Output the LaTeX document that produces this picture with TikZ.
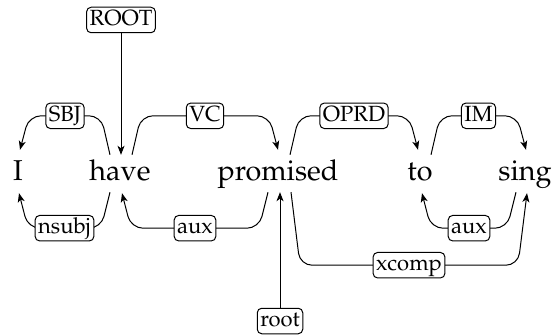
\documentclass[tikz,border=0pt]{standalone}
\usepackage[T1]{fontenc}
\usepackage{mathpazo}
\usetikzlibrary{arrows.meta,calc}
\begin{document}
\begin{tikzpicture}[x=1pt,y=-1pt,
  word/.style={font=\fontsize{28.7}{34}\selectfont, inner sep=0pt, text height=26pt, text depth=11pt, anchor=base},
  lab/.style={draw, rounded corners=4.5pt, fill=white, font=\fontsize{22}{26}\selectfont, inner xsep=3pt, inner ysep=2.5pt, text height=15.5pt, text depth=5pt, line width=1pt},
  arr/.style={line width=1pt, -{Stealth[length=9pt,width=7pt,inset=2.5pt]}},
  edge/.style={arr, rounded corners=12pt}]
\useasboundingbox (0,0) rectangle (553,336);
% words
\node[word] (wI) at (18,181) {I};
\node[word] (whave) at (120,181) {have};
\node[word] (wprom) at (278,181) {promised};
\node[word] (wto) at (420,181) {to};
\node[word] (wsing) at (525,181) {sing};
% top edges
\draw[edge] ($(whave.north)+(-10,0)$) -- ($(whave.north)+(-19,-39)$) -- node[lab] (SBJ) {SBJ} ($(wI.north)+(11,-39)$) -- ($(wI.north)+(2,-5)$);
\draw[edge] ($(whave.north)+(12,0)$) -- ($(whave.north)+(21,-39)$) -- node[lab] (VC) {VC} ($(wprom.north)+(-9,-39)$) -- ($(wprom.north)+(0,-5)$);
\draw[edge] ($(wprom.north)+(12,0)$) -- ($(wprom.north)+(21,-39)$) -- node[lab] (OPRD) {OPRD} ($(wto.north)+(-11,-39)$) -- ($(wto.north)+(-2,-5)$);
\draw[edge] ($(wto.north)+(11,0)$) -- ($(wto.north)+(20,-39)$) -- node[lab] (IM) {IM} ($(wsing.north)+(-8,-39)$) -- ($(wsing.north)+(1,-5)$);
% bottom edges
\draw[edge] ($(whave.south)+(-10,0)$) -- ($(whave.south)+(-19,36)$) -- node[lab] (nsubj) {nsubj} ($(wI.south)+(10,36)$) -- ($(wI.south)+(1,1)$);
\draw[edge] ($(wprom.south)+(-10,0)$) -- ($(wprom.south)+(-19,36)$) -- node[lab] (aux1) {aux} ($(whave.south)+(11,36)$) -- ($(whave.south)+(2,1)$);
\draw[edge] ($(wsing.south)+(-9,0)$) -- ($(wsing.south)+(-18,36)$) -- node[lab] (aux2) {aux} ($(wto.south)+(11,36)$) -- ($(wto.south)+(2,1)$);
\draw[edge] ($(wprom.south)+(13,0)$) -- ($(wprom.south)+(22,73)$) -- node[lab] (xcomp) {xcomp} ($(wsing.south)+(-7,73)$) -- ($(wsing.south)+(2,1)$);
% roots
\node[lab] (ROOT) at (121,20) {ROOT};
\draw[arr] (ROOT) -- (ROOT |- whave.north);
\node[lab] (root) at (280,321) {root};
\draw[arr] (root) -- (root |- wprom.south);
\end{tikzpicture}
\end{document}
